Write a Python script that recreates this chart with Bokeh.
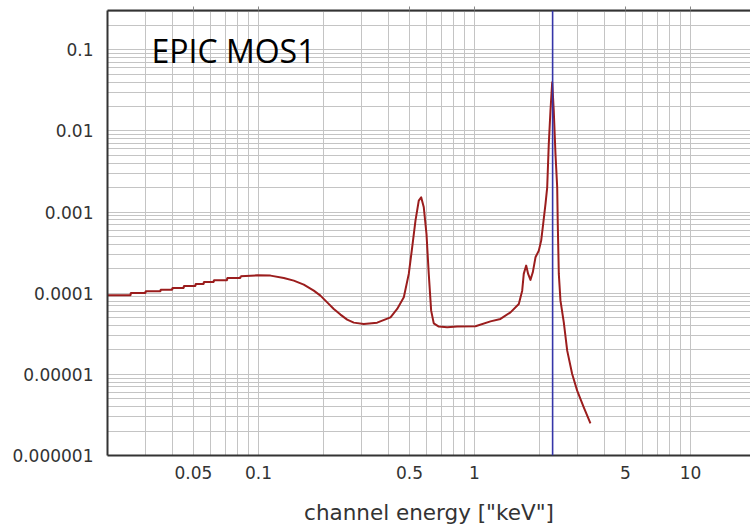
from bokeh.plotting import figure
from bokeh.models import (FixedTicker, CustomJSTickFormatter, LogAxis, Span, Label)
from bokeh.embed import file_html
from bokeh.resources import INLINE

# ---- data ----
# low-energy stepped part (channel bins): bin start energy [keV], value
step_energy = [0.0200, 0.0256, 0.0300, 0.0352, 0.0399, 0.0451, 0.0511, 0.0558, 0.0621, 0.0716, 0.0825]
step_value = [9.47e-5, 1.009e-4, 1.055e-4, 1.107e-4, 1.162e-4, 1.230e-4, 1.302e-4, 1.378e-4, 1.442e-4, 1.544e-4, 1.616e-4]

# smooth part
energy = [0.0825, 0.0986, 0.1137, 0.1310, 0.1457, 0.1621, 0.1803, 0.1936, 0.2080, 0.2232,
          0.2396, 0.2574, 0.2762, 0.3073, 0.3543, 0.4085, 0.4386, 0.4708, 0.4964, 0.5147,
          0.5331, 0.5522, 0.5665, 0.5825, 0.5995, 0.6142, 0.6301, 0.6479, 0.6835, 0.7474,
          0.8316, 1.011, 1.186, 1.319, 1.468, 1.604, 1.663, 1.691, 1.735, 1.772,
          1.816, 1.862, 1.916, 1.985, 2.036, 2.080, 2.132, 2.171, 2.208, 2.248,
          2.290, 2.328, 2.371, 2.415, 2.430, 2.457, 2.501, 2.591, 2.687, 2.833,
          2.988, 3.206, 3.443]
value = [1.616e-4, 1.662e-4, 1.648e-4, 1.544e-4, 1.430e-4, 1.276e-4, 1.076e-4, 9.34e-5, 7.72e-5, 6.40e-5,
         5.45e-5, 4.73e-5, 4.34e-5, 4.18e-5, 4.34e-5, 5.04e-5, 6.40e-5, 8.90e-5, 1.73e-4, 3.68e-4,
         7.86e-4, 1.386e-3, 1.522e-3, 1.146e-3, 5.38e-4, 1.73e-4, 6.10e-5, 4.25e-5, 3.88e-5, 3.80e-5,
         3.88e-5, 3.91e-5, 4.50e-5, 4.82e-5, 5.81e-5, 7.38e-5, 1.076e-4, 1.73e-4, 2.19e-4, 1.73e-4,
         1.459e-4, 1.81e-4, 2.77e-4, 3.35e-4, 4.45e-4, 7.15e-4, 1.262e-3, 2.02e-3, 6.93e-3, 0.01784,
         0.03986, 0.01784, 5.22e-3, 2.02e-3, 7.15e-4, 1.73e-4, 8.10e-5, 4.38e-5, 1.96e-5, 1.011e-5,
         6.30e-6, 3.92e-6, 2.49e-6]

line_energy = 2.3  # vertical marker [keV]

x_tick_values = [0.05, 0.1, 0.5, 1, 5, 10]
y_tick_values = [1e-6, 1e-5, 1e-4, 1e-3, 1e-2, 1e-1]
x_grid_values = [m * 10.0 ** k for k in (-2, -1, 0) for m in range(1, 10)] + [10.0]
y_grid_values = [m * 10.0 ** k for k in range(-6, 0) for m in range(1, 10)] + [0.2, 0.3]

title_text = "EPIC MOS1"
x_label = 'channel energy ["keV"]'

# ---- figure ----
p = figure(width=750, height=528, x_axis_type="log", y_axis_type="log",
           x_range=(0.02, 18.96), y_range=(1e-6, 0.305),
           output_backend="svg", toolbar_location=None,
           min_border_left=107, min_border_right=0, min_border_top=10, min_border_bottom=73)
p.outline_line_color = None
p.background_fill_color = "white"
p.border_fill_color = "white"

grid_color = "#c4c4c4"
p.xgrid.ticker = FixedTicker(ticks=x_grid_values)
p.ygrid.ticker = FixedTicker(ticks=y_grid_values)
p.xgrid.grid_line_color = grid_color
p.ygrid.grid_line_color = grid_color
p.xgrid.grid_line_width = 1
p.ygrid.grid_line_width = 1

fmt = CustomJSTickFormatter(code="""
const n = Math.max(0, -Math.floor(Math.log10(tick) + 1e-9));
return tick.toFixed(n);
""")

axis_color = "#333333"
for ax in (p.xaxis[0], p.yaxis[0]):
    ax.formatter = fmt
    ax.axis_line_color = axis_color
    ax.axis_line_width = 2
    ax.major_tick_out = 0
    ax.major_tick_in = 0
    ax.minor_tick_out = 0
    ax.minor_tick_in = 0
    ax.major_label_text_font = "DejaVu Sans"
    ax.major_label_text_font_size = "17px"
    ax.major_label_text_color = "#333333"

p.xaxis[0].ticker = FixedTicker(ticks=x_tick_values, minor_ticks=[])
p.yaxis[0].ticker = FixedTicker(ticks=y_tick_values, minor_ticks=[])
p.xaxis[0].major_label_standoff = 10
p.yaxis[0].major_label_standoff = 14

p.xaxis[0].axis_label = x_label
p.xaxis[0].axis_label_text_font = "DejaVu Sans"
p.xaxis[0].axis_label_text_font_size = "21.5px"
p.xaxis[0].axis_label_text_font_style = "normal"
p.xaxis[0].axis_label_text_color = "#333333"
p.xaxis[0].axis_label_standoff = 18

# top border with small outward tick marks (no labels)
top = LogAxis(ticker=FixedTicker(ticks=[], minor_ticks=x_tick_values),
              axis_line_color=axis_color, axis_line_width=2,
              major_tick_out=0, major_tick_in=0,
              minor_tick_out=4, minor_tick_in=0, minor_tick_line_color="#888888",
              major_label_standoff=0)
p.add_layout(top, "above")

# data
p.step(step_energy, step_value, mode="after", line_color="#9b1d1d", line_width=2)
p.line(energy, value, line_color="#9b1d1d", line_width=2, line_join="round")

p.add_layout(Span(location=line_energy, dimension="height", line_color="#3535a8", line_width=1.6))

p.add_layout(Label(x=44, y=405, x_units="screen", y_units="screen", text=title_text,
                   text_font="Open Sans", text_font_size="32px", text_color="black",
                   text_baseline="alphabetic"))

open("out.html", "w").write(file_html(p, INLINE))
